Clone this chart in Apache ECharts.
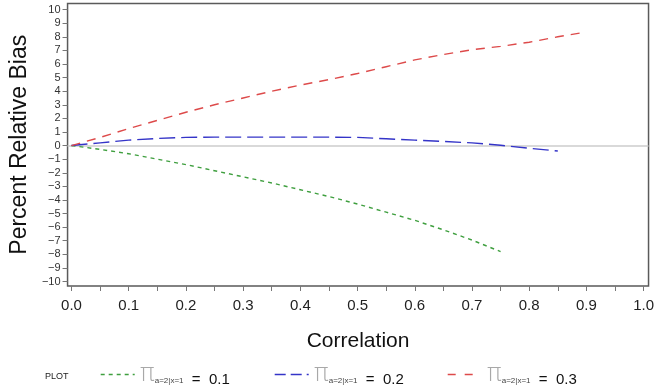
<!DOCTYPE html>
<html>
<head>
<meta charset="utf-8">
<script src="https://cdn.jsdelivr.net/npm/echarts@6/dist/echarts.min.js"></script>
<style>html,body{margin:0;padding:0;background:#fff;}#c{width:657px;height:391px;}</style>
</head>
<body>
<div id="c"></div>
<script>
const correlation = [0, 0.05, 0.1, 0.15, 0.2, 0.25, 0.3, 0.35, 0.4, 0.45, 0.5, 0.55, 0.6, 0.65, 0.7, 0.75, 0.8, 0.85, 0.9];
const bias01 = [0, -0.28, -0.6, -1.0, -1.4, -1.85, -2.3, -2.75, -3.25, -3.75, -4.3, -4.9, -5.5, -6.2, -6.95, -7.8];
const bias02 = [0, 0.2, 0.4, 0.52, 0.6, 0.62, 0.62, 0.62, 0.62, 0.62, 0.6, 0.5, 0.4, 0.3, 0.2, 0.02, -0.2, -0.4];
const bias03 = [0, 0.6, 1.25, 1.85, 2.45, 3.0, 3.5, 4.0, 4.45, 4.85, 5.3, 5.8, 6.3, 6.7, 7.05, 7.3, 7.6, 8.0, 8.35];
const xTickLabels = [0, 0.1, 0.2, 0.3, 0.4, 0.5, 0.6, 0.7, 0.8, 0.9, 1.0];
const xTicks = [0, 0.05, 0.1, 0.15, 0.2, 0.25, 0.3, 0.35, 0.4, 0.45, 0.5, 0.55, 0.6, 0.65, 0.7, 0.75, 0.8, 0.85, 0.9, 0.95, 1.0];
const yTicks = [-10, -9, -8, -7, -6, -5, -4, -3, -2, -1, 0, 1, 2, 3, 4, 5, 6, 7, 8, 9, 10];
const seriesNames = ['0.1', '0.2', '0.3'];

function pairs(vals) { return vals.map((v, i) => [correlation[i], v]); }

const FONT = 'Liberation Sans';
const colors = ['#3f9f3f', '#3434c8', '#dd4a4a'];
const dashes = [[4, 4], [16, 6], [9, 7]];
const legendDashes = [[4, 4], [11, 5], [8, 9]];
const allVals = [bias01, bias02, bias03];

const chart = echarts.init(document.getElementById('c'), null, {renderer: 'canvas'});

const series = seriesNames.map((n, k) => ({
  name: n,
  type: 'line',
  data: pairs(allVals[k]),
  symbol: 'none',
  smooth: false,
  z: 3 + k,
  lineStyle: {color: colors[k], width: 1.4, type: dashes[k]},
  itemStyle: {color: colors[k]},
  markLine: k === 0 ? {
    silent: true, symbol: 'none', label: {show: false},
    lineStyle: {color: '#cccccc', width: 1.5, type: 'solid'},
    data: [{yAxis: 0}], z: 1
  } : undefined
}));

const legendStarts = [95, 269, 442];
const legends = seriesNames.map((n, k) => ({
  data: [n],
  left: legendStarts[k],
  top: 357,
  itemWidth: 34,
  itemHeight: 14,
  itemGap: 0,
  itemStyle: {opacity: 0},
  lineStyle: {color: colors[k], width: 1.4, type: legendDashes[k]},
  textStyle: {
    fontFamily: FONT,
    rich: {
      pi: {fontSize: 25, color: '#a8a8a8', fontFamily: 'DejaVu Sans', fontWeight: 'lighter', verticalAlign: 'bottom'},
      sub: {fontSize: 8, color: '#444', fontFamily: FONT, verticalAlign: 'bottom', padding: [0, 0, 2, 0]},
      eq: {fontSize: 15, color: '#111', fontFamily: FONT, verticalAlign: 'bottom'}
    }
  },
  formatter: name => '{pi|π}{sub|a=2|x=1}{eq|  =  ' + name + '}'
}));

chart.setOption({
  animation: false,
  textStyle: {fontFamily: FONT},
  grid: {left: 62, right: 7, top: 3.5, bottom: 105, show: true, borderColor: '#5a5a5a', borderWidth: 1.5, backgroundColor: 'transparent'},
  legend: legends,
  xAxis: {
    type: 'value', min: -0.0069, max: 1.0086,
    name: 'Correlation', nameLocation: 'middle', nameGap: 45,
    nameTextStyle: {fontSize: 21, color: '#111', fontFamily: FONT},
    axisLine: {show: false, onZero: false},
    splitLine: {show: false},
    axisTick: {show: true, length: 5, inside: false, customValues: xTicks, lineStyle: {color: '#777'}},
    axisLabel: {customValues: xTickLabels, fontSize: 15, color: '#222', margin: 12, formatter: v => v.toFixed(1)}
  },
  yAxis: {
    type: 'value', min: -10.33, max: 10.45,
    name: 'Percent Relative Bias', nameLocation: 'middle', nameGap: 36,
    nameTextStyle: {fontSize: 23, color: '#111', fontFamily: FONT},
    axisLine: {show: false, onZero: false},
    splitLine: {show: false},
    axisTick: {show: true, length: 5, inside: false, customValues: yTicks, lineStyle: {color: '#777'}},
    axisLabel: {customValues: yTicks, fontSize: 11, color: '#333', margin: 7, formatter: v => String(v).replace('-', '\u2212')}
  },
  graphic: [{
    type: 'text', left: 45, top: 372,
    style: {text: 'PLOT', fontSize: 9, fill: '#222', fontFamily: FONT}
  }],
  series: series
});
</script>
</body>
</html>
